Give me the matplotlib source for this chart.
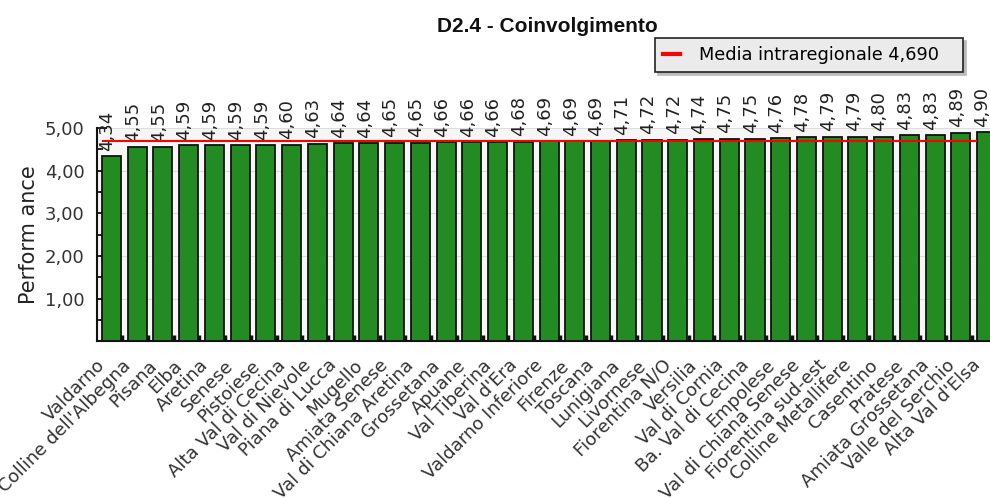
import numpy as np
import matplotlib
matplotlib.use("Agg")
import matplotlib.pyplot as plt
from matplotlib.lines import Line2D
from matplotlib.ticker import FuncFormatter, MultipleLocator, FixedLocator
from matplotlib.transforms import ScaledTranslation

# Data
zone = [
    "Valdarno", "Colline dell'Albegna", "Pisana", "Elba", "Aretina", "Senese",
    "Pistoiese", "Alta Val di Cecina", "Val di Nievole", "Piana di Lucca",
    "Mugello", "Amiata Senese", "Val di Chiana Aretina", "Grossetana",
    "Apuane", "Val Tiberina", "Val d'Era", "Valdarno Inferiore", "Firenze",
    "Toscana", "Lunigiana", "Livornese", "Fiorentina N/O", "Versilia",
    "Val di Cornia", "Ba. Val di Cecina", "Empolese", "Val di Chiana Senese",
    "Fiorentina sud-est", "Colline Metallifere", "Casentino", "Pratese",
    "Amiata Grossetana", "Valle del Serchio", "Alta Val d'Elsa",
]
valori = [
    4.34, 4.55, 4.55, 4.59, 4.59, 4.59, 4.59, 4.60, 4.63, 4.64,
    4.64, 4.65, 4.65, 4.66, 4.66, 4.66, 4.68, 4.69, 4.69, 4.69,
    4.71, 4.72, 4.72, 4.74, 4.75, 4.75, 4.76, 4.78, 4.79, 4.79,
    4.80, 4.83, 4.83, 4.89, 4.90,
]
media = 4.690
titolo = "D2.4 - Coinvolgimento"


def virgola(v, dec=2):
    return f"{v:.{dec}f}".replace(".", ",")


fig = plt.figure(figsize=(9.9, 4.98), dpi=100)
ax = fig.add_axes([0.098, 0.315, 0.902, 0.428])
ax.set_facecolor("#f6f6f6")

x = np.arange(len(valori))
w = 0.74
ax.bar(x, valori, width=w, color="#228b22", edgecolor="#111111",
       linewidth=1.3, zorder=3)

# media line, from the first bar's left edge to the last bar's left edge
ax.hlines(media, x[0] - w / 2, x[-1] - w / 2, color="#ff0000",
          linewidth=1.5, zorder=4)

for xi, v in zip(x, valori):
    ax.annotate(virgola(v), (xi, v), xytext=(-3, 4), textcoords="offset points",
                rotation=90, ha="center", va="bottom", fontsize=13,
                color="#222222", annotation_clip=False)

ax.set_xlim(-0.56, 34.13)
ax.set_ylim(0, 5)
ax.yaxis.set_major_locator(MultipleLocator(1))
ax.yaxis.set_minor_locator(MultipleLocator(0.5))
ax.yaxis.set_major_formatter(FuncFormatter(
    lambda v, p: "" if v == 0 else virgola(v)))
ax.grid(axis="y", color="#dddddd", linewidth=0.8, zorder=0)

ax.set_xticks(x)
ax.set_xticklabels(zone, rotation=45, ha="right", va="center",
                   rotation_mode="anchor", fontsize=13, color="#333333")
ax.xaxis.set_minor_locator(FixedLocator(x + w / 2 + 0.05))
ax.tick_params(axis="x", which="major", length=0, pad=15.5)
ax.tick_params(axis="x", which="minor", direction="in", length=4, width=2.5,
               color="#111111")
ax.tick_params(axis="y", which="major", direction="in", length=7, width=1.2,
               labelsize=13, pad=9, labelcolor="#333333")
ax.tick_params(axis="y", which="minor", direction="in", length=4, width=1.2)

# nudge the category labels a little to the left of the bar centres
shift = ScaledTranslation(-9 / 100, 0, fig.dpi_scale_trans)
for lab in ax.get_xticklabels():
    lab.set_transform(lab.get_transform() + shift)

for s in ("top", "right"):
    ax.spines[s].set_visible(False)
for s in ("left", "bottom"):
    ax.spines[s].set_linewidth(1.5)
    ax.spines[s].set_color("#111111")

ax.set_ylabel("Perform ance", fontsize=15, color="#222222", labelpad=4)

fig.text(0.5525, 0.9357, titolo, ha="center", va="baseline", fontsize=15,
         fontweight="bold", family="Liberation Sans", color="#111111")

handle = Line2D([], [], color="#ff0000", linewidth=3)
leg = ax.legend([handle], ["Media intraregionale " + virgola(media, 3)],
                loc="upper left", bbox_to_anchor=(0.6616, 0.8534, 0.3111, 0.0703),
                bbox_transform=fig.transFigure, mode="expand", borderaxespad=0,
                frameon=True, fancybox=False, shadow={"color": "#bbbbbb", "alpha": 1},
                handlelength=0.95, handletextpad=1.07, borderpad=0.45,
                prop={"family": "DejaVu Sans", "size": 12.8})
leg.get_frame().set_facecolor("#ebebeb")
leg.get_frame().set_edgecolor("#222222")
leg.get_frame().set_linewidth(1.2)
leg.get_frame().set_alpha(1)

fig.savefig("out.png", dpi=100)
